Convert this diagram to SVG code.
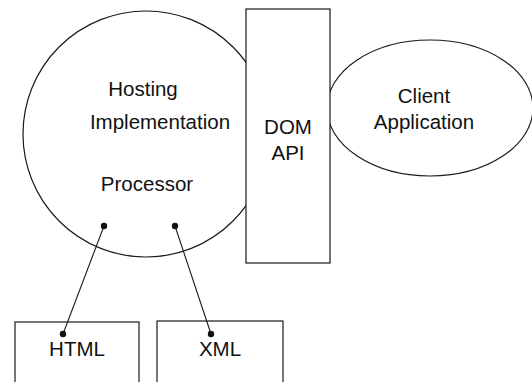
<svg xmlns="http://www.w3.org/2000/svg" width="532" height="382" viewBox="0 0 532 382">
<style>
.s{fill:#fff;stroke:#1a1a1a;stroke-width:1.2}
.t{font-family:"Liberation Sans",Arial,sans-serif;font-size:20.5px;fill:#111;text-anchor:middle}
.d{fill:#111}
.c{stroke:#1a1a1a;stroke-width:1.1;fill:none}
</style>
<rect width="532" height="382" fill="#fff"/>
<g id="client">
<ellipse class="s" cx="430" cy="108" rx="103" ry="68"/>
<text class="t" x="424" y="103">Client</text>
<text class="t" x="424" y="129">Application</text>
</g>
<g id="processor">
<circle class="s" cx="146" cy="134" r="123"/>
<text class="t" x="143" y="96">Hosting</text>
<text class="t" x="160" y="129">Implementation</text>
<text class="t" x="147" y="191">Processor</text>
</g>
<g id="domapi">
<rect class="s" x="246" y="9" width="84" height="254"/>
<text class="t" x="288" y="134">DOM</text>
<text class="t" x="288" y="160">API</text>
</g>
<g id="html">
<rect class="s" x="15" y="322" width="124" height="70"/>
<text class="t" x="77" y="356">HTML</text>
</g>
<g id="xml">
<rect class="s" x="157" y="321" width="126" height="71"/>
<text class="t" x="220" y="356">XML</text>
</g>
<g id="connectors">
<line class="c" x1="104" y1="226" x2="63" y2="334"/>
<line class="c" x1="175" y1="226" x2="211" y2="334"/>
<circle class="d" cx="104" cy="226" r="3.2"/>
<circle class="d" cx="175" cy="226" r="3.2"/>
<circle class="d" cx="63" cy="334" r="3.2"/>
<circle class="d" cx="211" cy="334" r="3.2"/>
</g>
</svg>
